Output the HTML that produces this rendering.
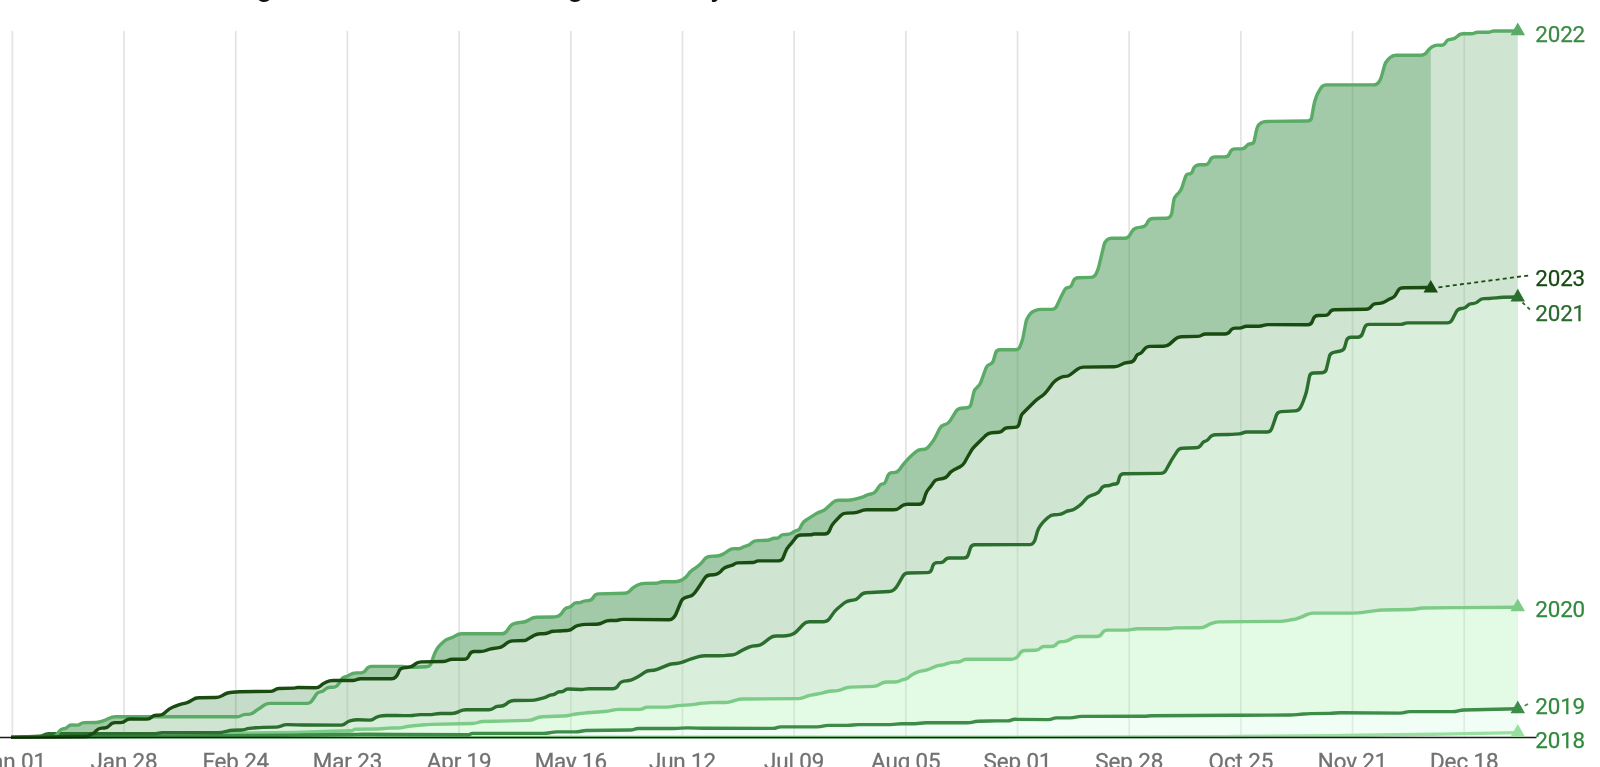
<!DOCTYPE html>
<html><head><meta charset="utf-8"><title>Chart</title>
<style>
html,body{margin:0;padding:0;background:#fff;}
body{width:1600px;height:767px;overflow:hidden;position:relative;font-family:"Roboto","Liberation Sans",sans-serif;}
svg{position:absolute;left:0;top:0;will-change:transform;}

.lab{font-family:"Roboto","Liberation Sans",sans-serif;font-size:22.4px;letter-spacing:-0.15px;}
.xl{font-family:"Roboto","Liberation Sans",sans-serif;font-size:22.4px;fill:#727272;stroke:#727272;stroke-width:0.3px;letter-spacing:-0.1px;}
.title{font-family:"Roboto","Liberation Sans",sans-serif;font-weight:700;font-size:27.5px;fill:#111;}
</style></head><body>
<svg width="1600" height="767" viewBox="0 0 1600 767"><g stroke="#000" stroke-opacity="0.043" stroke-width="1.8"><line x1="12.40" y1="31" x2="12.40" y2="737.5"/><line x1="124.08" y1="31" x2="124.08" y2="737.5"/><line x1="235.76" y1="31" x2="235.76" y2="737.5"/><line x1="347.44" y1="31" x2="347.44" y2="737.5"/><line x1="459.12" y1="31" x2="459.12" y2="737.5"/><line x1="570.80" y1="31" x2="570.80" y2="737.5"/><line x1="682.48" y1="31" x2="682.48" y2="737.5"/><line x1="794.16" y1="31" x2="794.16" y2="737.5"/><line x1="905.84" y1="31" x2="905.84" y2="737.5"/><line x1="1017.52" y1="31" x2="1017.52" y2="737.5"/><line x1="1129.20" y1="31" x2="1129.20" y2="737.5"/><line x1="1240.88" y1="31" x2="1240.88" y2="737.5"/><line x1="1352.56" y1="31" x2="1352.56" y2="737.5"/><line x1="1464.24" y1="31" x2="1464.24" y2="737.5"/></g><path d="M11.00,737.40 L36.50,737.05 Q40.00,737.00 43.50,736.91 L53.31,736.66 Q55.50,736.60 56.75,734.80 L56.75,734.80 Q58.00,733.00 59.31,731.25 L59.50,731.00 Q61.00,729.00 63.48,728.68 L64.29,728.58 Q66.50,728.30 68.00,726.65 L68.00,726.65 Q69.50,725.00 71.73,725.05 L76.84,725.16 Q78.90,725.20 80.50,723.90 L80.50,723.90 Q82.10,722.60 84.16,722.58 L96.08,722.44 Q99.40,722.40 102.50,721.20 L102.50,721.20 Q105.60,720.00 108.56,718.49 L108.78,718.39 Q111.90,716.80 115.40,716.80 L146.00,716.80 Q149.50,716.80 153.00,716.80 L236.82,716.80 Q239.20,716.80 241.25,715.60 L241.25,715.60 Q243.30,714.40 245.68,714.37 L248.75,714.34 Q252.00,714.30 254.35,712.05 L255.28,711.16 Q256.70,709.80 258.45,708.90 L258.45,708.90 Q260.20,708.00 261.75,706.79 L263.34,705.55 Q266.10,703.40 269.60,703.40 L307.59,703.40 Q310.10,703.40 311.55,701.35 L311.55,701.35 Q313.00,699.30 314.39,697.21 L316.23,694.42 Q317.70,692.20 320.35,691.90 L320.35,691.90 Q323.00,691.60 324.84,689.67 L325.05,689.45 Q327.10,687.30 330.07,687.30 L332.89,687.30 Q335.30,687.30 337.05,685.65 L337.05,685.65 Q338.80,684.00 339.98,681.90 L341.21,679.71 Q342.40,677.60 344.75,677.00 L344.75,677.00 Q347.10,676.40 349.18,675.15 L350.00,674.65 Q352.90,672.90 356.29,672.90 L360.60,672.90 Q364.10,672.90 365.97,669.94 L366.33,669.36 Q368.20,666.40 371.70,666.40 L394.00,666.40 Q397.50,666.40 401.00,666.40 L402.01,666.40 Q405.00,666.40 407.95,666.90 L407.95,666.90 Q410.90,667.40 413.89,667.28 L426.60,666.75 Q430.10,666.60 431.21,663.28 L433.59,656.22 Q434.70,652.90 436.42,649.85 L436.58,649.55 Q438.30,646.50 440.88,644.13 L443.02,642.17 Q445.60,639.80 448.92,638.71 L449.78,638.43 Q452.90,637.40 455.65,635.60 L455.65,635.60 Q458.40,633.80 461.69,633.80 L501.40,633.80 Q504.90,633.80 506.90,630.93 L509.65,626.98 Q511.30,624.60 514.05,623.70 L514.05,623.70 Q516.80,622.80 519.68,622.52 L522.42,622.24 Q525.90,621.90 528.86,620.03 L530.24,619.17 Q533.20,617.30 536.70,617.24 L552.43,616.95 Q555.00,616.90 557.50,616.30 L557.50,616.30 Q560.00,615.70 561.50,613.61 L564.38,609.61 Q565.90,607.50 568.50,607.35 L568.50,607.35 Q571.10,607.20 572.57,605.05 L572.60,605.00 Q574.10,602.80 576.76,602.80 L578.03,602.80 Q580.00,602.80 581.75,601.90 L581.75,601.90 Q583.50,601.00 585.46,600.86 L588.21,600.66 Q591.70,600.40 593.38,597.33 L593.52,597.07 Q595.20,594.00 598.70,593.91 L624.50,593.29 Q628.00,593.20 630.23,590.50 L630.47,590.20 Q632.70,587.50 635.83,585.93 L637.77,584.97 Q640.90,583.40 644.40,583.36 L655.50,583.22 Q657.40,583.20 659.15,582.45 L659.15,582.45 Q660.90,581.70 662.80,581.70 L675.00,581.70 Q678.50,581.70 681.63,580.13 L682.37,579.77 Q685.50,578.20 687.55,575.36 L688.48,574.07 Q690.20,571.70 692.55,569.95 L692.55,569.95 Q694.90,568.20 697.31,566.53 L697.93,566.10 Q700.80,564.10 702.92,561.32 L704.48,559.28 Q706.60,556.50 710.10,556.34 L716.78,556.04 Q720.00,555.90 722.80,554.30 L722.80,554.30 Q725.60,552.70 728.16,550.74 L728.35,550.60 Q731.10,548.50 734.56,548.61 L738.57,548.74 Q740.50,548.80 742.05,547.65 L742.05,547.65 Q743.60,546.50 745.49,546.12 L746.35,545.95 Q749.10,545.40 751.08,543.42 L751.45,543.05 Q753.80,540.70 757.12,540.59 L767.51,540.26 Q769.40,540.20 771.00,539.20 L771.00,539.20 Q772.60,538.20 774.49,538.20 L776.68,538.20 Q778.80,538.20 780.00,536.45 L780.00,536.45 Q781.20,534.70 783.32,534.63 L786.56,534.51 Q789.80,534.40 792.50,532.60 L793.54,531.90 Q795.20,530.80 797.15,530.40 L797.15,530.40 Q799.10,530.00 799.98,528.22 L801.55,525.04 Q803.10,521.90 806.06,520.04 L807.14,519.36 Q810.10,517.50 813.06,515.64 L816.27,513.62 Q818.70,512.10 821.45,511.30 L821.45,511.30 Q824.20,510.50 826.29,508.54 L832.54,502.69 Q835.10,500.30 838.60,500.30 L847.57,500.30 Q850.80,500.30 853.90,499.40 L854.29,499.29 Q857.00,498.50 859.75,497.85 L859.75,497.85 Q862.50,497.20 865.02,495.92 L865.25,495.80 Q868.00,494.40 871.06,493.97 L871.20,493.95 Q874.40,493.50 876.18,490.80 L879.44,485.86 Q880.60,484.10 882.70,483.90 L882.70,483.90 Q884.80,483.70 885.55,481.73 L887.76,475.87 Q889.00,472.60 892.50,472.60 L893.80,472.60 Q897.30,472.60 899.33,469.75 L900.47,468.15 Q902.50,465.30 904.81,462.67 L907.49,459.63 Q909.80,457.00 912.44,454.70 L915.56,452.00 Q918.20,449.70 921.70,449.53 L923.00,449.47 Q926.50,449.30 928.70,446.58 L931.60,443.02 Q933.80,440.30 935.37,437.17 L939.53,428.83 Q941.10,425.70 944.46,424.73 L945.04,424.57 Q948.40,423.60 950.24,420.62 L955.96,411.38 Q957.80,408.40 961.29,408.18 L966.81,407.82 Q970.30,407.60 971.08,404.19 L973.78,392.34 Q974.50,389.20 977.10,387.30 L977.10,387.30 Q979.70,385.40 980.79,382.37 L986.00,367.98 Q987.00,365.20 989.80,364.25 L989.80,364.25 Q992.60,363.30 993.42,360.46 L995.53,353.16 Q996.50,349.80 1000.00,349.80 L1015.20,349.80 Q1018.70,349.80 1019.98,346.54 L1021.32,343.16 Q1022.60,339.90 1023.24,336.46 L1025.86,322.44 Q1026.50,319.00 1028.53,316.15 L1029.70,314.51 Q1031.70,311.70 1034.95,310.55 L1034.95,310.55 Q1038.20,309.40 1041.65,309.40 L1051.60,309.40 Q1055.10,309.40 1056.60,306.24 L1058.90,301.36 Q1060.40,298.20 1061.97,295.07 L1064.43,290.14 Q1065.60,287.80 1068.20,287.50 L1068.20,287.50 Q1070.80,287.20 1071.81,284.79 L1073.35,281.13 Q1074.70,277.90 1078.20,277.79 L1090.70,277.41 Q1094.20,277.30 1095.77,274.17 L1096.53,272.63 Q1098.10,269.50 1098.92,266.10 L1104.04,244.92 Q1104.70,242.20 1106.65,240.20 L1106.65,240.20 Q1108.60,238.20 1111.39,238.20 L1124.60,238.20 Q1128.10,238.20 1129.84,235.16 L1131.93,231.49 Q1133.30,229.10 1135.90,228.20 L1135.90,228.20 Q1138.50,227.30 1141.24,227.09 L1141.75,227.05 Q1145.00,226.80 1146.59,223.96 L1147.89,221.65 Q1149.60,218.60 1153.10,218.53 L1166.57,218.24 Q1168.70,218.20 1170.10,216.60 L1170.10,216.60 Q1171.50,215.00 1171.83,212.90 L1173.81,200.12 Q1174.20,197.60 1176.00,195.80 L1176.00,195.80 Q1177.80,194.00 1179.40,192.02 L1179.65,191.70 Q1181.50,189.40 1182.34,186.57 L1183.23,183.58 Q1184.20,180.30 1185.40,177.10 L1185.74,176.19 Q1186.60,173.90 1189.05,173.90 L1189.05,173.90 Q1191.50,173.90 1192.38,171.61 L1193.58,168.48 Q1194.30,166.60 1196.10,165.70 L1196.10,165.70 Q1197.90,164.80 1199.91,164.80 L1204.50,164.80 Q1208.00,164.80 1209.45,161.62 L1210.15,160.08 Q1211.60,156.90 1215.10,156.90 L1224.50,156.90 Q1228.00,156.90 1229.47,153.72 L1230.23,152.08 Q1231.70,148.90 1235.20,148.90 L1241.38,148.90 Q1244.50,148.90 1246.30,146.35 L1246.51,146.05 Q1248.10,143.80 1250.85,143.80 L1250.85,143.80 Q1253.60,143.80 1254.17,141.11 L1255.61,134.25 Q1256.30,131.00 1257.20,127.80 L1257.25,127.64 Q1258.10,124.60 1260.85,123.05 L1260.85,123.05 Q1263.60,121.50 1266.76,121.46 L1307.60,120.94 Q1311.10,120.90 1311.69,117.45 L1313.61,106.35 Q1314.20,102.90 1315.33,99.59 L1316.27,96.81 Q1317.40,93.50 1319.29,90.55 L1321.01,87.85 Q1322.90,84.90 1326.40,84.90 L1373.43,84.90 Q1376.80,84.90 1378.75,82.15 L1378.75,82.15 Q1380.70,79.40 1381.59,76.15 L1384.48,65.58 Q1385.40,62.20 1387.89,59.74 L1390.01,57.66 Q1392.50,55.20 1396.00,55.20 L1421.00,55.20 Q1424.50,55.20 1426.59,52.39 L1427.18,51.60 Q1429.20,48.90 1431.95,46.95 L1431.95,46.95 Q1434.70,45.00 1438.07,45.11 L1440.86,45.20 Q1444.10,45.30 1445.65,42.45 L1445.65,42.45 Q1447.20,39.60 1450.44,39.39 L1451.51,39.32 Q1455.00,39.10 1457.32,36.48 L1457.38,36.42 Q1459.70,33.80 1463.20,33.80 L1471.21,33.80 Q1473.00,33.80 1474.60,33.00 L1474.60,33.00 Q1476.20,32.20 1477.99,32.20 L1489.00,32.20 Q1490.30,32.20 1491.45,31.60 L1491.45,31.60 Q1492.60,31.00 1493.90,31.00 L1517.80,31.00 L1517.8,737.5 L11.0,737.5 Z" fill="#cfe5d1"/><path d="M11.00,737.40 L86.62,736.52 Q88.00,736.50 89.00,735.55 L89.00,735.55 Q90.00,734.60 91.29,734.11 L92.10,733.80 Q94.20,733.00 95.68,731.31 L96.25,730.65 Q98.30,728.30 101.41,728.13 L104.36,727.98 Q107.70,727.80 109.80,725.20 L109.80,725.20 Q111.90,722.60 115.24,722.60 L120.64,722.60 Q123.40,722.60 125.45,720.75 L125.45,720.75 Q127.50,718.90 130.26,718.94 L146.67,719.16 Q149.50,719.20 151.55,717.25 L151.55,717.25 Q153.60,715.30 156.43,715.30 L158.50,715.30 Q162.00,715.30 164.56,712.91 L166.74,710.89 Q169.30,708.50 172.56,707.22 L175.44,706.08 Q178.70,704.80 182.10,703.95 L185.70,703.05 Q189.10,702.20 191.95,700.17 L192.45,699.83 Q195.30,697.80 198.80,697.76 L215.80,697.54 Q219.30,697.50 222.26,695.63 L223.64,694.77 Q226.60,692.90 230.08,692.49 L232.52,692.21 Q236.00,691.80 239.50,691.75 L270.96,691.33 Q273.20,691.30 274.95,689.90 L274.95,689.90 Q276.70,688.50 278.94,688.45 L293.11,688.13 Q294.30,688.10 295.45,687.80 L295.45,687.80 Q296.60,687.50 297.79,687.52 L315.51,687.76 Q318.30,687.80 320.35,685.90 L320.35,685.90 Q322.40,684.00 324.91,682.76 L326.36,682.05 Q329.50,680.50 333.00,680.50 L353.33,680.50 Q355.30,680.50 357.05,679.60 L357.05,679.60 Q358.80,678.70 360.77,678.70 L391.53,678.70 Q394.00,678.70 395.75,676.95 L395.75,676.95 Q397.50,675.20 398.33,672.87 L398.82,671.50 Q400.00,668.20 403.48,667.87 L408.02,667.43 Q411.50,667.10 414.18,664.85 L415.02,664.15 Q417.70,661.90 421.20,661.84 L443.55,661.44 Q445.90,661.40 448.00,660.35 L448.00,660.35 Q450.10,659.30 452.45,659.30 L463.80,659.30 Q467.30,659.30 468.77,656.12 L469.43,654.68 Q470.90,651.50 474.40,651.50 L479.99,651.50 Q483.40,651.50 486.55,650.20 L486.55,650.20 Q489.70,648.90 493.08,648.49 L497.73,647.92 Q501.20,647.50 503.96,645.34 L506.74,643.16 Q509.50,641.00 513.00,640.89 L524.80,640.51 Q525.20,640.50 525.55,640.30 L525.55,640.30 Q525.90,640.10 526.25,639.90 L533.86,635.54 Q536.90,633.80 540.40,633.80 L543.00,633.80 Q546.00,633.80 548.75,632.60 L549.89,632.10 Q551.50,631.40 553.25,631.30 L553.25,631.30 Q555.00,631.20 556.75,631.10 L557.50,631.05 Q560.00,630.90 562.50,630.78 L567.49,630.55 Q570.60,630.40 572.90,628.30 L572.90,628.30 Q575.20,626.20 578.23,625.47 L578.90,625.31 Q582.30,624.50 585.80,624.42 L596.40,624.18 Q599.90,624.10 602.99,622.46 L603.81,622.04 Q606.90,620.40 610.40,620.47 L613.88,620.55 Q616.30,620.60 618.65,620.00 L618.65,620.00 Q621.00,619.40 623.43,619.42 L668.89,619.78 Q671.40,619.80 673.20,618.05 L673.20,618.05 Q675.00,616.30 675.96,613.98 L681.00,601.74 Q682.00,599.30 684.35,598.10 L684.35,598.10 Q686.70,596.90 689.29,596.37 L689.65,596.30 Q692.60,595.70 694.40,593.28 L695.71,591.51 Q697.80,588.70 699.71,585.77 L704.69,578.13 Q706.60,575.20 710.09,574.98 L713.70,574.75 Q716.00,574.60 718.00,573.45 L718.00,573.45 Q720.00,572.30 721.52,570.56 L722.05,569.95 Q724.10,567.60 727.10,566.76 L730.84,565.72 Q732.70,565.20 734.25,564.05 L734.25,564.05 Q735.80,562.90 737.73,562.85 L753.23,562.44 Q754.60,562.40 755.75,561.65 L755.75,561.65 Q756.90,560.90 758.27,560.90 L778.40,560.90 Q781.90,560.90 783.17,557.64 L785.33,552.06 Q786.60,548.80 788.92,546.18 L789.78,545.22 Q792.10,542.60 794.17,539.78 L795.53,537.92 Q797.60,535.10 801.10,535.00 L810.87,534.72 Q811.70,534.70 812.45,534.35 L812.45,534.35 Q813.20,534.00 814.03,534.00 L824.60,534.00 Q828.10,534.00 829.44,530.77 L830.66,527.83 Q832.00,524.60 834.42,522.07 L840.48,515.73 Q842.90,513.20 846.40,513.10 L853.50,512.90 Q857.00,512.80 860.14,511.25 L860.16,511.25 Q863.30,509.70 866.80,509.71 L893.80,509.79 Q897.30,509.80 899.94,507.50 L900.96,506.60 Q903.60,504.30 907.10,504.30 L918.90,504.30 Q922.40,504.30 923.46,500.96 L925.44,494.74 Q926.50,491.40 928.77,488.74 L929.81,487.53 Q931.80,485.20 933.35,482.55 L933.35,482.55 Q934.90,479.90 937.92,479.37 L942.95,478.50 Q946.40,477.90 948.31,474.97 L948.59,474.53 Q950.50,471.60 953.63,470.02 L959.87,466.88 Q963.00,465.30 964.69,462.24 L967.84,456.55 Q969.30,453.90 970.85,451.30 L970.85,451.30 Q972.40,448.70 974.54,446.56 L979.33,441.77 Q981.80,439.30 984.27,436.83 L985.63,435.47 Q988.10,433.00 991.59,432.74 L998.97,432.20 Q1001.60,432.00 1003.20,429.90 L1003.20,429.90 Q1004.80,427.80 1007.44,427.68 L1014.80,427.36 Q1018.30,427.20 1019.14,423.80 L1020.98,416.38 Q1021.40,414.70 1022.65,413.50 L1022.65,413.50 Q1023.90,412.30 1025.13,411.07 L1034.43,401.77 Q1036.90,399.30 1039.81,397.36 L1041.79,396.04 Q1044.70,394.10 1046.81,391.30 L1052.99,383.10 Q1055.10,380.30 1058.24,378.75 L1060.67,377.55 Q1063.00,376.40 1065.60,376.40 L1065.60,376.40 Q1068.20,376.40 1070.24,374.79 L1077.15,369.36 Q1079.90,367.20 1083.40,367.15 L1114.20,366.75 Q1117.70,366.70 1120.70,364.90 L1121.20,364.60 Q1124.20,362.80 1127.69,362.49 L1129.81,362.31 Q1133.30,362.00 1134.87,358.87 L1136.31,355.98 Q1137.20,354.20 1139.15,353.80 L1139.15,353.80 Q1141.10,353.40 1142.30,351.81 L1144.29,349.19 Q1146.40,346.40 1149.90,346.37 L1163.80,346.23 Q1167.30,346.20 1169.91,343.87 L1175.19,339.13 Q1177.80,336.80 1181.30,336.72 L1197.96,336.35 Q1200.10,336.30 1201.90,335.15 L1201.90,335.15 Q1203.70,334.00 1205.84,334.00 L1224.87,334.00 Q1228.30,334.00 1230.05,331.05 L1230.05,331.05 Q1231.80,328.10 1235.23,328.10 L1239.21,328.10 Q1241.20,328.10 1242.95,327.15 L1242.95,327.15 Q1244.70,326.20 1246.69,326.20 L1258.62,326.20 Q1261.10,326.20 1263.45,325.40 L1263.45,325.40 Q1265.80,324.60 1268.28,324.61 L1307.50,324.78 Q1311.00,324.80 1312.28,321.54 L1313.32,318.86 Q1314.60,315.60 1318.10,315.52 L1325.21,315.37 Q1328.30,315.30 1329.70,312.55 L1329.70,312.55 Q1331.10,309.80 1334.19,309.75 L1366.16,309.25 Q1369.40,309.20 1371.20,306.50 L1371.20,306.50 Q1373.00,303.80 1376.24,303.61 L1379.61,303.41 Q1383.10,303.20 1385.98,301.22 L1387.56,300.13 Q1389.50,298.80 1391.75,298.10 L1391.75,298.10 Q1394.00,297.40 1395.22,295.38 L1398.53,289.90 Q1399.50,288.30 1401.35,288.00 L1401.35,288.00 Q1403.20,287.70 1405.07,287.69 L1427.30,287.53 Q1430.80,287.50 1430.80,284.00 L1430.80,48.75 Q1430.80,47.77 1430.00,48.33 L1430.00,48.33 Q1429.20,48.90 1428.61,49.69 L1426.59,52.39 Q1424.50,55.20 1421.00,55.20 L1396.00,55.20 Q1392.50,55.20 1390.01,57.66 L1387.89,59.74 Q1385.40,62.20 1384.48,65.58 L1381.59,76.15 Q1380.70,79.40 1378.75,82.15 L1378.75,82.15 Q1376.80,84.90 1373.43,84.90 L1326.40,84.90 Q1322.90,84.90 1321.01,87.85 L1319.29,90.55 Q1317.40,93.50 1316.27,96.81 L1315.33,99.59 Q1314.20,102.90 1313.61,106.35 L1311.69,117.45 Q1311.10,120.90 1307.60,120.94 L1266.76,121.46 Q1263.60,121.50 1260.85,123.05 L1260.85,123.05 Q1258.10,124.60 1257.25,127.64 L1257.20,127.80 Q1256.30,131.00 1255.61,134.25 L1254.17,141.11 Q1253.60,143.80 1250.85,143.80 L1250.85,143.80 Q1248.10,143.80 1246.51,146.05 L1246.30,146.35 Q1244.50,148.90 1241.38,148.90 L1235.20,148.90 Q1231.70,148.90 1230.23,152.08 L1229.47,153.72 Q1228.00,156.90 1224.50,156.90 L1215.10,156.90 Q1211.60,156.90 1210.15,160.08 L1209.45,161.62 Q1208.00,164.80 1204.50,164.80 L1199.91,164.80 Q1197.90,164.80 1196.10,165.70 L1196.10,165.70 Q1194.30,166.60 1193.58,168.48 L1192.38,171.61 Q1191.50,173.90 1189.05,173.90 L1189.05,173.90 Q1186.60,173.90 1185.74,176.19 L1185.40,177.10 Q1184.20,180.30 1183.23,183.58 L1182.34,186.57 Q1181.50,189.40 1179.65,191.70 L1179.40,192.02 Q1177.80,194.00 1176.00,195.80 L1176.00,195.80 Q1174.20,197.60 1173.81,200.12 L1171.83,212.90 Q1171.50,215.00 1170.10,216.60 L1170.10,216.60 Q1168.70,218.20 1166.57,218.24 L1153.10,218.53 Q1149.60,218.60 1147.89,221.65 L1146.59,223.96 Q1145.00,226.80 1141.75,227.05 L1141.24,227.09 Q1138.50,227.30 1135.90,228.20 L1135.90,228.20 Q1133.30,229.10 1131.93,231.49 L1129.84,235.16 Q1128.10,238.20 1124.60,238.20 L1111.39,238.20 Q1108.60,238.20 1106.65,240.20 L1106.65,240.20 Q1104.70,242.20 1104.04,244.92 L1098.92,266.10 Q1098.10,269.50 1096.53,272.63 L1095.77,274.17 Q1094.20,277.30 1090.70,277.41 L1078.20,277.79 Q1074.70,277.90 1073.35,281.13 L1071.81,284.79 Q1070.80,287.20 1068.20,287.50 L1068.20,287.50 Q1065.60,287.80 1064.43,290.14 L1061.97,295.07 Q1060.40,298.20 1058.90,301.36 L1056.60,306.24 Q1055.10,309.40 1051.60,309.40 L1041.65,309.40 Q1038.20,309.40 1034.95,310.55 L1034.95,310.55 Q1031.70,311.70 1029.70,314.51 L1028.53,316.15 Q1026.50,319.00 1025.86,322.44 L1023.24,336.46 Q1022.60,339.90 1021.32,343.16 L1019.98,346.54 Q1018.70,349.80 1015.20,349.80 L1000.00,349.80 Q996.50,349.80 995.53,353.16 L993.42,360.46 Q992.60,363.30 989.80,364.25 L989.80,364.25 Q987.00,365.20 986.00,367.98 L980.79,382.37 Q979.70,385.40 977.10,387.30 L977.10,387.30 Q974.50,389.20 973.78,392.34 L971.08,404.19 Q970.30,407.60 966.81,407.82 L961.29,408.18 Q957.80,408.40 955.96,411.38 L950.24,420.62 Q948.40,423.60 945.04,424.57 L944.46,424.73 Q941.10,425.70 939.53,428.83 L935.37,437.17 Q933.80,440.30 931.60,443.02 L928.70,446.58 Q926.50,449.30 923.00,449.47 L921.70,449.53 Q918.20,449.70 915.56,452.00 L912.44,454.70 Q909.80,457.00 907.49,459.63 L904.81,462.67 Q902.50,465.30 900.47,468.15 L899.33,469.75 Q897.30,472.60 893.80,472.60 L892.50,472.60 Q889.00,472.60 887.76,475.87 L885.55,481.73 Q884.80,483.70 882.70,483.90 L882.70,483.90 Q880.60,484.10 879.44,485.86 L876.18,490.80 Q874.40,493.50 871.20,493.95 L871.06,493.97 Q868.00,494.40 865.25,495.80 L865.02,495.92 Q862.50,497.20 859.75,497.85 L859.75,497.85 Q857.00,498.50 854.29,499.29 L853.90,499.40 Q850.80,500.30 847.57,500.30 L838.60,500.30 Q835.10,500.30 832.54,502.69 L826.29,508.54 Q824.20,510.50 821.45,511.30 L821.45,511.30 Q818.70,512.10 816.27,513.62 L813.06,515.64 Q810.10,517.50 807.14,519.36 L806.06,520.04 Q803.10,521.90 801.55,525.04 L799.98,528.22 Q799.10,530.00 797.15,530.40 L797.15,530.40 Q795.20,530.80 793.54,531.90 L792.50,532.60 Q789.80,534.40 786.56,534.51 L783.32,534.63 Q781.20,534.70 780.00,536.45 L780.00,536.45 Q778.80,538.20 776.68,538.20 L774.49,538.20 Q772.60,538.20 771.00,539.20 L771.00,539.20 Q769.40,540.20 767.51,540.26 L757.12,540.59 Q753.80,540.70 751.45,543.05 L751.08,543.42 Q749.10,545.40 746.35,545.95 L745.49,546.12 Q743.60,546.50 742.05,547.65 L742.05,547.65 Q740.50,548.80 738.57,548.74 L734.56,548.61 Q731.10,548.50 728.35,550.60 L728.16,550.74 Q725.60,552.70 722.80,554.30 L722.80,554.30 Q720.00,555.90 716.78,556.04 L710.10,556.34 Q706.60,556.50 704.48,559.28 L702.92,561.32 Q700.80,564.10 697.93,566.10 L697.31,566.53 Q694.90,568.20 692.55,569.95 L692.55,569.95 Q690.20,571.70 688.48,574.07 L687.55,575.36 Q685.50,578.20 682.37,579.77 L681.63,580.13 Q678.50,581.70 675.00,581.70 L662.80,581.70 Q660.90,581.70 659.15,582.45 L659.15,582.45 Q657.40,583.20 655.50,583.22 L644.40,583.36 Q640.90,583.40 637.77,584.97 L635.83,585.93 Q632.70,587.50 630.47,590.20 L630.23,590.50 Q628.00,593.20 624.50,593.29 L598.70,593.91 Q595.20,594.00 593.52,597.07 L593.38,597.33 Q591.70,600.40 588.21,600.66 L585.46,600.86 Q583.50,601.00 581.75,601.90 L581.75,601.90 Q580.00,602.80 578.03,602.80 L576.76,602.80 Q574.10,602.80 572.60,605.00 L572.57,605.05 Q571.10,607.20 568.50,607.35 L568.50,607.35 Q565.90,607.50 564.38,609.61 L561.50,613.61 Q560.00,615.70 557.50,616.30 L557.50,616.30 Q555.00,616.90 552.43,616.95 L536.70,617.24 Q533.20,617.30 530.24,619.17 L528.86,620.03 Q525.90,621.90 522.42,622.24 L519.68,622.52 Q516.80,622.80 514.05,623.70 L514.05,623.70 Q511.30,624.60 509.65,626.98 L506.90,630.93 Q504.90,633.80 501.40,633.80 L461.69,633.80 Q458.40,633.80 455.65,635.60 L455.65,635.60 Q452.90,637.40 449.78,638.43 L448.92,638.71 Q445.60,639.80 443.02,642.17 L440.88,644.13 Q438.30,646.50 436.58,649.55 L436.42,649.85 Q434.70,652.90 433.59,656.22 L431.21,663.28 Q430.10,666.60 426.60,666.75 L413.89,667.28 Q410.90,667.40 407.95,666.90 L407.95,666.90 Q405.00,666.40 402.01,666.40 L401.00,666.40 Q397.50,666.40 394.00,666.40 L371.70,666.40 Q368.20,666.40 366.33,669.36 L365.97,669.94 Q364.10,672.90 360.60,672.90 L356.29,672.90 Q352.90,672.90 350.00,674.65 L349.18,675.15 Q347.10,676.40 344.75,677.00 L344.75,677.00 Q342.40,677.60 341.21,679.71 L339.98,681.90 Q338.80,684.00 337.05,685.65 L337.05,685.65 Q335.30,687.30 332.89,687.30 L330.07,687.30 Q327.10,687.30 325.05,689.45 L324.84,689.67 Q323.00,691.60 320.35,691.90 L320.35,691.90 Q317.70,692.20 316.23,694.42 L314.39,697.21 Q313.00,699.30 311.55,701.35 L311.55,701.35 Q310.10,703.40 307.59,703.40 L269.60,703.40 Q266.10,703.40 263.34,705.55 L261.75,706.79 Q260.20,708.00 258.45,708.90 L258.45,708.90 Q256.70,709.80 255.28,711.16 L254.35,712.05 Q252.00,714.30 248.75,714.34 L245.68,714.37 Q243.30,714.40 241.25,715.60 L241.25,715.60 Q239.20,716.80 236.82,716.80 L153.00,716.80 Q149.50,716.80 146.00,716.80 L115.40,716.80 Q111.90,716.80 108.78,718.39 L108.56,718.49 Q105.60,720.00 102.50,721.20 L102.50,721.20 Q99.40,722.40 96.08,722.44 L84.16,722.58 Q82.10,722.60 80.50,723.90 L80.50,723.90 Q78.90,725.20 76.84,725.16 L71.73,725.05 Q69.50,725.00 68.00,726.65 L68.00,726.65 Q66.50,728.30 64.29,728.58 L63.48,728.68 Q61.00,729.00 59.50,731.00 L59.31,731.25 Q58.00,733.00 56.75,734.80 L56.75,734.80 Q55.50,736.60 53.31,736.66 L43.50,736.91 Q40.00,737.00 36.50,737.05 L11.00,737.40 Z" fill="#3e8a48" fill-opacity="0.3"/><path d="M11.00,737.40 L39.62,736.29 Q42.00,736.20 44.00,734.90 L44.00,734.90 Q46.00,733.60 48.39,733.60 L152.45,733.80 Q155.00,733.80 157.50,733.30 L157.50,733.30 Q160.00,732.80 162.55,732.79 L218.40,732.61 Q221.90,732.60 225.28,731.68 L226.62,731.32 Q230.00,730.40 233.50,730.27 L241.77,729.97 Q243.75,729.90 245.62,729.25 L245.62,729.25 Q247.50,728.60 249.47,728.40 L255.92,727.75 Q259.40,727.40 262.90,727.35 L276.61,727.14 Q279.40,727.10 281.90,725.85 L281.90,725.85 Q284.40,724.60 287.19,724.67 L296.50,724.91 Q300.00,725.00 303.50,725.01 L341.19,725.09 Q343.75,725.10 345.62,723.35 L345.62,723.35 Q347.50,721.60 349.96,720.89 L351.04,720.57 Q354.40,719.60 357.90,719.72 L369.20,720.11 Q371.90,720.20 374.07,718.60 L374.07,718.60 Q376.25,717.00 378.88,716.39 L379.69,716.20 Q383.10,715.40 386.60,715.44 L396.50,715.56 Q400.00,715.60 403.50,715.60 L409.85,715.60 Q412.50,715.60 415.10,715.10 L415.10,715.10 Q417.70,714.60 420.35,714.60 L428.15,714.60 Q431.30,714.60 434.40,714.05 L434.40,714.05 Q437.50,713.50 440.65,713.50 L451.80,713.50 Q455.30,713.50 458.40,711.88 L459.50,711.32 Q462.60,709.70 466.10,709.70 L489.07,709.70 Q491.80,709.70 493.90,707.95 L493.90,707.95 Q496.00,706.20 498.73,706.20 L499.80,706.20 Q503.30,706.20 506.06,704.05 L507.84,702.65 Q510.60,700.50 514.10,700.47 L531.00,700.33 Q534.50,700.30 537.88,699.39 L543.66,697.83 Q546.00,697.20 548.10,696.00 L548.11,695.99 Q550.20,694.80 552.60,694.70 L552.84,694.69 Q555.00,694.60 556.50,693.05 L556.50,693.05 Q558.00,691.50 560.15,691.71 L560.89,691.79 Q563.00,692.00 564.50,690.50 L564.50,690.50 Q566.00,689.00 568.12,689.06 L580.97,689.44 Q583.00,689.50 585.00,689.15 L585.00,689.15 Q587.00,688.80 589.03,688.80 L612.50,688.80 Q616.00,688.80 617.88,685.85 L618.86,684.30 Q620.00,682.50 622.00,681.75 L622.00,681.75 Q624.00,681.00 626.13,680.85 L627.51,680.75 Q631.00,680.50 634.07,678.81 L637.93,676.69 Q641.00,675.00 643.80,672.90 L644.20,672.60 Q647.00,670.50 650.50,670.50 L650.50,670.50 Q654.00,670.50 657.28,669.29 L660.90,667.95 Q664.00,666.80 667.00,665.40 L667.00,665.40 Q670.00,664.00 673.30,663.74 L676.51,663.48 Q680.00,663.20 683.26,661.92 L688.74,659.78 Q692.00,658.50 695.38,657.59 L698.62,656.71 Q702.00,655.80 705.50,655.80 L711.50,655.80 Q715.00,655.80 718.50,655.72 L724.10,655.58 Q727.60,655.50 731.07,655.05 L731.93,654.95 Q735.40,654.50 738.32,652.57 L738.38,652.53 Q741.30,650.60 744.49,649.15 L748.91,647.15 Q752.10,645.70 755.60,645.70 L756.40,645.70 Q759.90,645.70 762.68,643.58 L769.82,638.12 Q772.60,636.00 776.10,636.00 L782.80,636.00 Q786.30,636.00 789.69,635.13 L790.71,634.87 Q794.10,634.00 796.51,631.46 L803.39,624.24 Q805.80,621.70 809.30,621.70 L823.90,621.70 Q827.40,621.70 829.40,618.83 L833.20,613.37 Q835.20,610.50 837.89,608.27 L844.21,603.03 Q846.90,600.80 850.38,600.44 L853.22,600.16 Q856.70,599.80 858.97,597.14 L860.33,595.56 Q862.60,592.90 866.10,592.72 L889.27,591.54 Q892.10,591.40 894.20,589.50 L894.20,589.50 Q896.30,587.60 897.70,585.14 L902.87,576.04 Q904.60,573.00 908.10,572.95 L927.20,572.65 Q930.70,572.60 931.74,569.26 L932.76,565.94 Q933.80,562.60 937.30,562.60 L940.40,562.60 Q943.20,562.60 944.80,560.30 L944.80,560.30 Q946.40,558.00 949.20,558.00 L963.70,558.00 Q967.20,558.00 968.26,554.66 L970.34,548.14 Q971.40,544.80 974.90,544.79 L1029.81,544.61 Q1031.90,544.60 1033.25,543.00 L1033.25,543.00 Q1034.60,541.40 1035.17,539.38 L1037.25,531.97 Q1038.20,528.60 1040.31,525.80 L1041.59,524.10 Q1043.70,521.30 1046.33,518.99 L1048.37,517.21 Q1051.00,514.90 1054.50,514.76 L1057.60,514.64 Q1061.10,514.50 1064.10,512.69 L1065.04,512.12 Q1067.40,510.70 1070.15,510.50 L1070.15,510.50 Q1072.90,510.30 1075.16,508.71 L1079.14,505.91 Q1082.00,503.90 1084.11,501.10 L1085.39,499.40 Q1087.50,496.60 1090.83,495.51 L1095.17,494.09 Q1098.50,493.00 1100.34,490.02 L1101.32,488.42 Q1103.00,485.70 1106.20,485.70 L1107.40,485.70 Q1109.40,485.70 1111.25,484.95 L1111.25,484.95 Q1113.10,484.20 1115.09,484.07 L1115.35,484.05 Q1117.60,483.90 1118.20,481.73 L1119.46,477.17 Q1120.40,473.80 1123.90,473.76 L1160.70,473.34 Q1164.20,473.30 1165.89,470.24 L1169.81,463.16 Q1171.50,460.10 1173.39,457.15 L1177.11,451.35 Q1179.00,448.40 1182.50,448.28 L1195.50,447.82 Q1199.00,447.70 1201.09,444.89 L1202.63,442.83 Q1203.70,441.40 1205.45,441.05 L1205.45,441.05 Q1207.20,440.70 1208.31,439.30 L1209.72,437.54 Q1211.90,434.80 1215.40,434.73 L1228.30,434.47 Q1231.80,434.40 1235.29,434.14 L1239.26,433.84 Q1241.20,433.70 1242.95,432.85 L1242.95,432.85 Q1244.70,432.00 1246.65,432.00 L1267.04,432.00 Q1270.50,432.00 1271.70,428.75 L1271.70,428.75 Q1272.90,425.50 1274.00,422.22 L1276.39,415.12 Q1277.50,411.80 1281.00,411.62 L1295.20,410.88 Q1298.70,410.70 1300.38,407.63 L1300.52,407.37 Q1302.20,404.30 1303.36,401.00 L1305.24,395.60 Q1306.40,392.30 1307.06,388.86 L1309.44,376.54 Q1310.10,373.10 1313.60,372.99 L1322.10,372.71 Q1325.60,372.60 1326.40,369.19 L1329.40,356.41 Q1330.20,353.00 1333.63,352.32 L1340.37,350.98 Q1343.80,350.30 1344.75,346.93 L1346.55,340.57 Q1347.50,337.20 1351.00,337.20 L1357.70,337.20 Q1361.20,337.20 1362.36,333.90 L1364.54,327.70 Q1365.70,324.40 1369.20,324.40 L1400.20,324.40 Q1402.20,324.40 1404.05,323.65 L1404.05,323.65 Q1405.90,322.90 1407.90,322.90 L1447.10,322.90 Q1450.60,322.90 1452.20,319.79 L1456.30,311.81 Q1457.90,308.70 1461.39,308.51 L1462.29,308.46 Q1465.20,308.30 1467.05,306.05 L1467.05,306.05 Q1468.90,303.80 1471.81,303.64 L1472.99,303.58 Q1476.20,303.40 1478.45,301.10 L1478.45,301.10 Q1480.70,298.80 1483.91,298.66 L1489.10,298.45 Q1492.60,298.30 1496.07,297.87 L1496.43,297.83 Q1499.90,297.40 1503.40,297.32 L1517.80,297.00 L1517.8,737.5 L11.0,737.5 Z" fill="#d9efdb"/><path d="M11.00,737.40 L196.50,736.52 Q200.00,736.50 203.50,736.34 L218.50,735.66 Q222.00,735.50 225.36,734.53 L226.64,734.17 Q230.00,733.20 233.50,733.16 L296.50,732.34 Q300.00,732.30 303.50,732.19 L324.50,731.51 Q328.00,731.40 331.50,731.31 L351.27,730.78 Q352.50,730.75 353.45,729.98 L353.45,729.98 Q354.40,729.20 355.63,729.19 L377.75,728.94 Q381.25,728.90 384.72,728.44 L385.28,728.36 Q388.75,727.90 392.25,727.96 L396.50,728.04 Q400.00,728.10 403.40,727.28 L404.10,727.12 Q407.50,726.30 410.99,725.98 L424.61,724.72 Q428.10,724.40 431.60,724.33 L472.06,723.46 Q475.00,723.40 477.80,722.50 L477.80,722.50 Q480.60,721.60 483.54,721.52 L527.80,720.39 Q531.30,720.30 534.49,718.85 L535.61,718.35 Q538.80,716.90 542.30,716.78 L563.40,716.02 Q566.90,715.90 570.30,715.08 L571.00,714.92 Q574.40,714.10 577.88,713.75 L584.02,713.15 Q587.50,712.80 590.99,712.55 L604.61,711.55 Q608.10,711.30 611.49,710.44 L612.21,710.26 Q615.60,709.40 619.10,709.40 L639.72,709.40 Q641.90,709.40 643.75,708.25 L643.75,708.25 Q645.60,707.10 647.78,707.10 L666.50,707.10 Q670.00,707.10 673.43,706.41 L674.07,706.29 Q677.50,705.60 680.99,705.39 L689.01,704.91 Q692.50,704.70 695.95,704.10 L696.55,704.00 Q700.00,703.40 703.49,703.17 L711.51,702.63 Q715.00,702.40 718.50,702.43 L724.10,702.47 Q727.60,702.50 730.96,701.52 L735.94,700.08 Q739.30,699.10 742.80,699.07 L798.59,698.63 Q801.90,698.60 804.85,697.10 L804.85,697.10 Q807.80,695.60 811.07,695.07 L816.05,694.26 Q819.50,693.70 822.88,692.80 L825.92,692.00 Q829.30,691.10 832.80,690.96 L835.60,690.84 Q839.10,690.70 842.29,689.27 L843.71,688.63 Q846.90,687.20 850.40,687.09 L873.20,686.41 Q876.70,686.30 879.63,684.39 L880.37,683.91 Q883.30,682.00 886.80,682.00 L894.69,682.00 Q897.60,682.00 900.20,680.70 L901.05,680.27 Q902.80,679.40 904.75,679.25 L904.75,679.25 Q906.70,679.10 908.14,677.77 L908.65,677.30 Q910.60,675.50 912.94,674.25 L915.41,672.94 Q918.50,671.30 921.97,670.85 L922.83,670.75 Q926.30,670.30 929.53,668.95 L935.59,666.41 Q938.00,665.40 940.60,665.20 L940.60,665.20 Q943.20,665.00 945.66,664.13 L947.80,663.37 Q951.10,662.20 954.60,662.08 L957.86,661.98 Q960.20,661.90 962.15,660.60 L962.15,660.60 Q964.10,659.30 966.44,659.30 L1011.29,659.30 Q1013.60,659.30 1015.60,658.15 L1015.60,658.15 Q1017.60,657.00 1018.80,655.03 L1019.68,653.59 Q1021.50,650.60 1025.00,650.52 L1035.58,650.26 Q1038.20,650.20 1040.05,648.35 L1040.05,648.35 Q1041.90,646.50 1044.52,646.50 L1051.66,646.50 Q1054.70,646.50 1056.50,644.05 L1056.50,644.05 Q1058.30,641.60 1061.34,641.60 L1063.00,641.60 Q1066.50,641.60 1069.47,639.75 L1071.73,638.35 Q1074.70,636.50 1078.20,636.50 L1096.80,636.50 Q1100.30,636.50 1102.02,633.45 L1102.18,633.15 Q1103.90,630.10 1107.40,630.10 L1126.67,630.10 Q1129.50,630.10 1132.25,629.45 L1132.25,629.45 Q1135.00,628.80 1137.83,628.80 L1167.70,628.80 Q1169.60,628.80 1171.45,628.35 L1171.45,628.35 Q1173.30,627.90 1175.20,627.89 L1199.89,627.81 Q1203.30,627.80 1206.20,626.00 L1206.20,626.00 Q1209.10,624.20 1212.34,623.12 L1212.68,623.01 Q1216.00,621.90 1219.50,621.87 L1280.00,621.33 Q1283.50,621.30 1286.93,620.60 L1289.38,620.09 Q1291.30,619.70 1293.25,619.50 L1293.25,619.50 Q1295.20,619.30 1297.04,618.62 L1299.72,617.62 Q1303.00,616.40 1306.16,614.89 L1306.74,614.61 Q1309.90,613.10 1313.40,613.10 L1354.10,613.10 Q1357.60,613.10 1361.07,612.62 L1375.63,610.58 Q1379.10,610.10 1382.60,610.04 L1411.31,609.55 Q1414.30,609.50 1417.20,608.75 L1417.20,608.75 Q1420.10,608.00 1423.10,607.97 L1453.80,607.64 Q1457.30,607.60 1460.80,607.58 L1517.80,607.20 L1517.8,737.5 L11.0,737.5 Z" fill="#e3fae5"/><path d="M11.00,737.40 L146.50,736.23 Q150.00,736.20 153.50,736.17 L296.50,735.13 Q300.00,735.10 303.50,735.06 L350.90,734.54 Q354.40,734.50 357.90,734.41 L362.10,734.29 Q365.60,734.20 369.10,734.23 L396.50,734.47 Q400.00,734.50 403.50,734.51 L468.25,734.70 Q469.40,734.70 470.35,734.05 L470.35,734.05 Q471.30,733.40 472.45,733.40 L542.80,733.40 Q546.30,733.40 549.73,732.71 L550.37,732.59 Q553.80,731.90 557.30,731.90 L575.18,731.90 Q578.10,731.90 580.95,731.25 L580.95,731.25 Q583.80,730.60 586.72,730.56 L630.46,730.03 Q632.50,730.00 634.40,729.25 L634.40,729.25 Q636.30,728.50 638.34,728.50 L674.00,728.50 Q677.50,728.50 680.98,728.17 L681.52,728.13 Q685.00,727.80 688.50,727.89 L696.50,728.11 Q700.00,728.20 703.50,728.21 L772.96,728.39 Q775.00,728.40 776.90,727.65 L776.90,727.65 Q778.80,726.90 780.84,726.90 L817.10,726.90 Q820.00,726.90 822.80,726.15 L822.80,726.15 Q825.60,725.40 828.50,725.40 L847.17,725.40 Q850.00,725.40 852.80,725.00 L852.80,725.00 Q855.60,724.60 858.43,724.60 L890.21,724.60 Q893.10,724.60 895.95,724.15 L895.95,724.15 Q898.80,723.70 901.69,723.70 L914.66,723.70 Q917.50,723.70 920.30,723.25 L920.30,723.25 Q923.10,722.80 925.94,722.80 L967.10,722.80 Q970.00,722.80 972.80,722.05 L972.80,722.05 Q975.60,721.30 978.50,721.23 L989.00,720.98 Q992.50,720.90 996.00,720.90 L1007.38,720.90 Q1009.40,720.90 1011.25,720.10 L1011.25,720.10 Q1013.10,719.30 1015.12,719.32 L1048.52,719.58 Q1050.60,719.60 1052.50,718.75 L1052.50,718.75 Q1054.40,717.90 1056.48,717.90 L1070.15,717.90 Q1073.10,717.90 1075.95,717.15 L1075.95,717.15 Q1078.80,716.40 1081.75,716.40 L1144.43,716.30 Q1146.30,716.30 1148.15,716.00 L1148.15,716.00 Q1150.00,715.70 1151.87,715.69 L1235.00,715.22 Q1238.50,715.20 1242.00,715.19 L1289.80,715.01 Q1293.30,715.00 1296.78,714.67 L1303.52,714.03 Q1307.00,713.70 1310.50,713.64 L1329.44,713.35 Q1332.40,713.30 1335.35,713.00 L1335.35,713.00 Q1338.30,712.70 1341.27,712.72 L1399.94,713.08 Q1402.50,713.10 1404.95,712.35 L1404.95,712.35 Q1407.40,711.60 1409.96,711.60 L1452.24,711.60 Q1455.30,711.60 1458.25,710.80 L1458.25,710.80 Q1461.20,710.00 1464.26,709.94 L1517.80,708.80 L1517.8,737.5 L11.0,737.5 Z" fill="#f1fef6"/><path d="M11.00,737.40 L996.50,737.20 Q1000.00,737.20 1003.50,737.19 L1226.50,736.61 Q1230.00,736.60 1233.50,736.57 L1336.50,735.63 Q1340.00,735.60 1343.50,735.55 L1434.20,734.25 Q1437.70,734.20 1441.20,734.13 L1517.80,732.60 L1517.8,737.5 L11.0,737.5 Z" fill="#f6fff7"/><g stroke="#000" stroke-opacity="0.07" stroke-width="1.8"><line x1="12.40" y1="31" x2="12.40" y2="737.5"/><line x1="124.08" y1="31" x2="124.08" y2="737.5"/><line x1="235.76" y1="31" x2="235.76" y2="737.5"/><line x1="347.44" y1="31" x2="347.44" y2="737.5"/><line x1="459.12" y1="31" x2="459.12" y2="737.5"/><line x1="570.80" y1="31" x2="570.80" y2="737.5"/><line x1="682.48" y1="31" x2="682.48" y2="737.5"/><line x1="794.16" y1="31" x2="794.16" y2="737.5"/><line x1="905.84" y1="31" x2="905.84" y2="737.5"/><line x1="1017.52" y1="31" x2="1017.52" y2="737.5"/><line x1="1129.20" y1="31" x2="1129.20" y2="737.5"/><line x1="1240.88" y1="31" x2="1240.88" y2="737.5"/><line x1="1352.56" y1="31" x2="1352.56" y2="737.5"/><line x1="1464.24" y1="31" x2="1464.24" y2="737.5"/></g><g fill="none" stroke-width="3.4" stroke-linejoin="round" stroke-linecap="butt"><path d="M11.00,737.40 L196.50,736.52 Q200.00,736.50 203.50,736.34 L218.50,735.66 Q222.00,735.50 225.36,734.53 L226.64,734.17 Q230.00,733.20 233.50,733.16 L296.50,732.34 Q300.00,732.30 303.50,732.19 L324.50,731.51 Q328.00,731.40 331.50,731.31 L351.27,730.78 Q352.50,730.75 353.45,729.98 L353.45,729.98 Q354.40,729.20 355.63,729.19 L377.75,728.94 Q381.25,728.90 384.72,728.44 L385.28,728.36 Q388.75,727.90 392.25,727.96 L396.50,728.04 Q400.00,728.10 403.40,727.28 L404.10,727.12 Q407.50,726.30 410.99,725.98 L424.61,724.72 Q428.10,724.40 431.60,724.33 L472.06,723.46 Q475.00,723.40 477.80,722.50 L477.80,722.50 Q480.60,721.60 483.54,721.52 L527.80,720.39 Q531.30,720.30 534.49,718.85 L535.61,718.35 Q538.80,716.90 542.30,716.78 L563.40,716.02 Q566.90,715.90 570.30,715.08 L571.00,714.92 Q574.40,714.10 577.88,713.75 L584.02,713.15 Q587.50,712.80 590.99,712.55 L604.61,711.55 Q608.10,711.30 611.49,710.44 L612.21,710.26 Q615.60,709.40 619.10,709.40 L639.72,709.40 Q641.90,709.40 643.75,708.25 L643.75,708.25 Q645.60,707.10 647.78,707.10 L666.50,707.10 Q670.00,707.10 673.43,706.41 L674.07,706.29 Q677.50,705.60 680.99,705.39 L689.01,704.91 Q692.50,704.70 695.95,704.10 L696.55,704.00 Q700.00,703.40 703.49,703.17 L711.51,702.63 Q715.00,702.40 718.50,702.43 L724.10,702.47 Q727.60,702.50 730.96,701.52 L735.94,700.08 Q739.30,699.10 742.80,699.07 L798.59,698.63 Q801.90,698.60 804.85,697.10 L804.85,697.10 Q807.80,695.60 811.07,695.07 L816.05,694.26 Q819.50,693.70 822.88,692.80 L825.92,692.00 Q829.30,691.10 832.80,690.96 L835.60,690.84 Q839.10,690.70 842.29,689.27 L843.71,688.63 Q846.90,687.20 850.40,687.09 L873.20,686.41 Q876.70,686.30 879.63,684.39 L880.37,683.91 Q883.30,682.00 886.80,682.00 L894.69,682.00 Q897.60,682.00 900.20,680.70 L901.05,680.27 Q902.80,679.40 904.75,679.25 L904.75,679.25 Q906.70,679.10 908.14,677.77 L908.65,677.30 Q910.60,675.50 912.94,674.25 L915.41,672.94 Q918.50,671.30 921.97,670.85 L922.83,670.75 Q926.30,670.30 929.53,668.95 L935.59,666.41 Q938.00,665.40 940.60,665.20 L940.60,665.20 Q943.20,665.00 945.66,664.13 L947.80,663.37 Q951.10,662.20 954.60,662.08 L957.86,661.98 Q960.20,661.90 962.15,660.60 L962.15,660.60 Q964.10,659.30 966.44,659.30 L1011.29,659.30 Q1013.60,659.30 1015.60,658.15 L1015.60,658.15 Q1017.60,657.00 1018.80,655.03 L1019.68,653.59 Q1021.50,650.60 1025.00,650.52 L1035.58,650.26 Q1038.20,650.20 1040.05,648.35 L1040.05,648.35 Q1041.90,646.50 1044.52,646.50 L1051.66,646.50 Q1054.70,646.50 1056.50,644.05 L1056.50,644.05 Q1058.30,641.60 1061.34,641.60 L1063.00,641.60 Q1066.50,641.60 1069.47,639.75 L1071.73,638.35 Q1074.70,636.50 1078.20,636.50 L1096.80,636.50 Q1100.30,636.50 1102.02,633.45 L1102.18,633.15 Q1103.90,630.10 1107.40,630.10 L1126.67,630.10 Q1129.50,630.10 1132.25,629.45 L1132.25,629.45 Q1135.00,628.80 1137.83,628.80 L1167.70,628.80 Q1169.60,628.80 1171.45,628.35 L1171.45,628.35 Q1173.30,627.90 1175.20,627.89 L1199.89,627.81 Q1203.30,627.80 1206.20,626.00 L1206.20,626.00 Q1209.10,624.20 1212.34,623.12 L1212.68,623.01 Q1216.00,621.90 1219.50,621.87 L1280.00,621.33 Q1283.50,621.30 1286.93,620.60 L1289.38,620.09 Q1291.30,619.70 1293.25,619.50 L1293.25,619.50 Q1295.20,619.30 1297.04,618.62 L1299.72,617.62 Q1303.00,616.40 1306.16,614.89 L1306.74,614.61 Q1309.90,613.10 1313.40,613.10 L1354.10,613.10 Q1357.60,613.10 1361.07,612.62 L1375.63,610.58 Q1379.10,610.10 1382.60,610.04 L1411.31,609.55 Q1414.30,609.50 1417.20,608.75 L1417.20,608.75 Q1420.10,608.00 1423.10,607.97 L1453.80,607.64 Q1457.30,607.60 1460.80,607.58 L1517.80,607.20" stroke="#7ccb86"/><path d="M11.00,737.40 L996.50,737.20 Q1000.00,737.20 1003.50,737.19 L1226.50,736.61 Q1230.00,736.60 1233.50,736.57 L1336.50,735.63 Q1340.00,735.60 1343.50,735.55 L1434.20,734.25 Q1437.70,734.20 1441.20,734.13 L1517.80,732.60" stroke="#98e0a0"/><path d="M11.00,737.40 L146.50,736.23 Q150.00,736.20 153.50,736.17 L296.50,735.13 Q300.00,735.10 303.50,735.06 L350.90,734.54 Q354.40,734.50 357.90,734.41 L362.10,734.29 Q365.60,734.20 369.10,734.23 L396.50,734.47 Q400.00,734.50 403.50,734.51 L468.25,734.70 Q469.40,734.70 470.35,734.05 L470.35,734.05 Q471.30,733.40 472.45,733.40 L542.80,733.40 Q546.30,733.40 549.73,732.71 L550.37,732.59 Q553.80,731.90 557.30,731.90 L575.18,731.90 Q578.10,731.90 580.95,731.25 L580.95,731.25 Q583.80,730.60 586.72,730.56 L630.46,730.03 Q632.50,730.00 634.40,729.25 L634.40,729.25 Q636.30,728.50 638.34,728.50 L674.00,728.50 Q677.50,728.50 680.98,728.17 L681.52,728.13 Q685.00,727.80 688.50,727.89 L696.50,728.11 Q700.00,728.20 703.50,728.21 L772.96,728.39 Q775.00,728.40 776.90,727.65 L776.90,727.65 Q778.80,726.90 780.84,726.90 L817.10,726.90 Q820.00,726.90 822.80,726.15 L822.80,726.15 Q825.60,725.40 828.50,725.40 L847.17,725.40 Q850.00,725.40 852.80,725.00 L852.80,725.00 Q855.60,724.60 858.43,724.60 L890.21,724.60 Q893.10,724.60 895.95,724.15 L895.95,724.15 Q898.80,723.70 901.69,723.70 L914.66,723.70 Q917.50,723.70 920.30,723.25 L920.30,723.25 Q923.10,722.80 925.94,722.80 L967.10,722.80 Q970.00,722.80 972.80,722.05 L972.80,722.05 Q975.60,721.30 978.50,721.23 L989.00,720.98 Q992.50,720.90 996.00,720.90 L1007.38,720.90 Q1009.40,720.90 1011.25,720.10 L1011.25,720.10 Q1013.10,719.30 1015.12,719.32 L1048.52,719.58 Q1050.60,719.60 1052.50,718.75 L1052.50,718.75 Q1054.40,717.90 1056.48,717.90 L1070.15,717.90 Q1073.10,717.90 1075.95,717.15 L1075.95,717.15 Q1078.80,716.40 1081.75,716.40 L1144.43,716.30 Q1146.30,716.30 1148.15,716.00 L1148.15,716.00 Q1150.00,715.70 1151.87,715.69 L1235.00,715.22 Q1238.50,715.20 1242.00,715.19 L1289.80,715.01 Q1293.30,715.00 1296.78,714.67 L1303.52,714.03 Q1307.00,713.70 1310.50,713.64 L1329.44,713.35 Q1332.40,713.30 1335.35,713.00 L1335.35,713.00 Q1338.30,712.70 1341.27,712.72 L1399.94,713.08 Q1402.50,713.10 1404.95,712.35 L1404.95,712.35 Q1407.40,711.60 1409.96,711.60 L1452.24,711.60 Q1455.30,711.60 1458.25,710.80 L1458.25,710.80 Q1461.20,710.00 1464.26,709.94 L1517.80,708.80" stroke="#3d8c48"/><path d="M11.00,737.40 L39.62,736.29 Q42.00,736.20 44.00,734.90 L44.00,734.90 Q46.00,733.60 48.39,733.60 L152.45,733.80 Q155.00,733.80 157.50,733.30 L157.50,733.30 Q160.00,732.80 162.55,732.79 L218.40,732.61 Q221.90,732.60 225.28,731.68 L226.62,731.32 Q230.00,730.40 233.50,730.27 L241.77,729.97 Q243.75,729.90 245.62,729.25 L245.62,729.25 Q247.50,728.60 249.47,728.40 L255.92,727.75 Q259.40,727.40 262.90,727.35 L276.61,727.14 Q279.40,727.10 281.90,725.85 L281.90,725.85 Q284.40,724.60 287.19,724.67 L296.50,724.91 Q300.00,725.00 303.50,725.01 L341.19,725.09 Q343.75,725.10 345.62,723.35 L345.62,723.35 Q347.50,721.60 349.96,720.89 L351.04,720.57 Q354.40,719.60 357.90,719.72 L369.20,720.11 Q371.90,720.20 374.07,718.60 L374.07,718.60 Q376.25,717.00 378.88,716.39 L379.69,716.20 Q383.10,715.40 386.60,715.44 L396.50,715.56 Q400.00,715.60 403.50,715.60 L409.85,715.60 Q412.50,715.60 415.10,715.10 L415.10,715.10 Q417.70,714.60 420.35,714.60 L428.15,714.60 Q431.30,714.60 434.40,714.05 L434.40,714.05 Q437.50,713.50 440.65,713.50 L451.80,713.50 Q455.30,713.50 458.40,711.88 L459.50,711.32 Q462.60,709.70 466.10,709.70 L489.07,709.70 Q491.80,709.70 493.90,707.95 L493.90,707.95 Q496.00,706.20 498.73,706.20 L499.80,706.20 Q503.30,706.20 506.06,704.05 L507.84,702.65 Q510.60,700.50 514.10,700.47 L531.00,700.33 Q534.50,700.30 537.88,699.39 L543.66,697.83 Q546.00,697.20 548.10,696.00 L548.11,695.99 Q550.20,694.80 552.60,694.70 L552.84,694.69 Q555.00,694.60 556.50,693.05 L556.50,693.05 Q558.00,691.50 560.15,691.71 L560.89,691.79 Q563.00,692.00 564.50,690.50 L564.50,690.50 Q566.00,689.00 568.12,689.06 L580.97,689.44 Q583.00,689.50 585.00,689.15 L585.00,689.15 Q587.00,688.80 589.03,688.80 L612.50,688.80 Q616.00,688.80 617.88,685.85 L618.86,684.30 Q620.00,682.50 622.00,681.75 L622.00,681.75 Q624.00,681.00 626.13,680.85 L627.51,680.75 Q631.00,680.50 634.07,678.81 L637.93,676.69 Q641.00,675.00 643.80,672.90 L644.20,672.60 Q647.00,670.50 650.50,670.50 L650.50,670.50 Q654.00,670.50 657.28,669.29 L660.90,667.95 Q664.00,666.80 667.00,665.40 L667.00,665.40 Q670.00,664.00 673.30,663.74 L676.51,663.48 Q680.00,663.20 683.26,661.92 L688.74,659.78 Q692.00,658.50 695.38,657.59 L698.62,656.71 Q702.00,655.80 705.50,655.80 L711.50,655.80 Q715.00,655.80 718.50,655.72 L724.10,655.58 Q727.60,655.50 731.07,655.05 L731.93,654.95 Q735.40,654.50 738.32,652.57 L738.38,652.53 Q741.30,650.60 744.49,649.15 L748.91,647.15 Q752.10,645.70 755.60,645.70 L756.40,645.70 Q759.90,645.70 762.68,643.58 L769.82,638.12 Q772.60,636.00 776.10,636.00 L782.80,636.00 Q786.30,636.00 789.69,635.13 L790.71,634.87 Q794.10,634.00 796.51,631.46 L803.39,624.24 Q805.80,621.70 809.30,621.70 L823.90,621.70 Q827.40,621.70 829.40,618.83 L833.20,613.37 Q835.20,610.50 837.89,608.27 L844.21,603.03 Q846.90,600.80 850.38,600.44 L853.22,600.16 Q856.70,599.80 858.97,597.14 L860.33,595.56 Q862.60,592.90 866.10,592.72 L889.27,591.54 Q892.10,591.40 894.20,589.50 L894.20,589.50 Q896.30,587.60 897.70,585.14 L902.87,576.04 Q904.60,573.00 908.10,572.95 L927.20,572.65 Q930.70,572.60 931.74,569.26 L932.76,565.94 Q933.80,562.60 937.30,562.60 L940.40,562.60 Q943.20,562.60 944.80,560.30 L944.80,560.30 Q946.40,558.00 949.20,558.00 L963.70,558.00 Q967.20,558.00 968.26,554.66 L970.34,548.14 Q971.40,544.80 974.90,544.79 L1029.81,544.61 Q1031.90,544.60 1033.25,543.00 L1033.25,543.00 Q1034.60,541.40 1035.17,539.38 L1037.25,531.97 Q1038.20,528.60 1040.31,525.80 L1041.59,524.10 Q1043.70,521.30 1046.33,518.99 L1048.37,517.21 Q1051.00,514.90 1054.50,514.76 L1057.60,514.64 Q1061.10,514.50 1064.10,512.69 L1065.04,512.12 Q1067.40,510.70 1070.15,510.50 L1070.15,510.50 Q1072.90,510.30 1075.16,508.71 L1079.14,505.91 Q1082.00,503.90 1084.11,501.10 L1085.39,499.40 Q1087.50,496.60 1090.83,495.51 L1095.17,494.09 Q1098.50,493.00 1100.34,490.02 L1101.32,488.42 Q1103.00,485.70 1106.20,485.70 L1107.40,485.70 Q1109.40,485.70 1111.25,484.95 L1111.25,484.95 Q1113.10,484.20 1115.09,484.07 L1115.35,484.05 Q1117.60,483.90 1118.20,481.73 L1119.46,477.17 Q1120.40,473.80 1123.90,473.76 L1160.70,473.34 Q1164.20,473.30 1165.89,470.24 L1169.81,463.16 Q1171.50,460.10 1173.39,457.15 L1177.11,451.35 Q1179.00,448.40 1182.50,448.28 L1195.50,447.82 Q1199.00,447.70 1201.09,444.89 L1202.63,442.83 Q1203.70,441.40 1205.45,441.05 L1205.45,441.05 Q1207.20,440.70 1208.31,439.30 L1209.72,437.54 Q1211.90,434.80 1215.40,434.73 L1228.30,434.47 Q1231.80,434.40 1235.29,434.14 L1239.26,433.84 Q1241.20,433.70 1242.95,432.85 L1242.95,432.85 Q1244.70,432.00 1246.65,432.00 L1267.04,432.00 Q1270.50,432.00 1271.70,428.75 L1271.70,428.75 Q1272.90,425.50 1274.00,422.22 L1276.39,415.12 Q1277.50,411.80 1281.00,411.62 L1295.20,410.88 Q1298.70,410.70 1300.38,407.63 L1300.52,407.37 Q1302.20,404.30 1303.36,401.00 L1305.24,395.60 Q1306.40,392.30 1307.06,388.86 L1309.44,376.54 Q1310.10,373.10 1313.60,372.99 L1322.10,372.71 Q1325.60,372.60 1326.40,369.19 L1329.40,356.41 Q1330.20,353.00 1333.63,352.32 L1340.37,350.98 Q1343.80,350.30 1344.75,346.93 L1346.55,340.57 Q1347.50,337.20 1351.00,337.20 L1357.70,337.20 Q1361.20,337.20 1362.36,333.90 L1364.54,327.70 Q1365.70,324.40 1369.20,324.40 L1400.20,324.40 Q1402.20,324.40 1404.05,323.65 L1404.05,323.65 Q1405.90,322.90 1407.90,322.90 L1447.10,322.90 Q1450.60,322.90 1452.20,319.79 L1456.30,311.81 Q1457.90,308.70 1461.39,308.51 L1462.29,308.46 Q1465.20,308.30 1467.05,306.05 L1467.05,306.05 Q1468.90,303.80 1471.81,303.64 L1472.99,303.58 Q1476.20,303.40 1478.45,301.10 L1478.45,301.10 Q1480.70,298.80 1483.91,298.66 L1489.10,298.45 Q1492.60,298.30 1496.07,297.87 L1496.43,297.83 Q1499.90,297.40 1503.40,297.32 L1517.80,297.00" stroke="#2b6e2e"/><path d="M11.00,737.40 L36.50,737.05 Q40.00,737.00 43.50,736.91 L53.31,736.66 Q55.50,736.60 56.75,734.80 L56.75,734.80 Q58.00,733.00 59.31,731.25 L59.50,731.00 Q61.00,729.00 63.48,728.68 L64.29,728.58 Q66.50,728.30 68.00,726.65 L68.00,726.65 Q69.50,725.00 71.73,725.05 L76.84,725.16 Q78.90,725.20 80.50,723.90 L80.50,723.90 Q82.10,722.60 84.16,722.58 L96.08,722.44 Q99.40,722.40 102.50,721.20 L102.50,721.20 Q105.60,720.00 108.56,718.49 L108.78,718.39 Q111.90,716.80 115.40,716.80 L146.00,716.80 Q149.50,716.80 153.00,716.80 L236.82,716.80 Q239.20,716.80 241.25,715.60 L241.25,715.60 Q243.30,714.40 245.68,714.37 L248.75,714.34 Q252.00,714.30 254.35,712.05 L255.28,711.16 Q256.70,709.80 258.45,708.90 L258.45,708.90 Q260.20,708.00 261.75,706.79 L263.34,705.55 Q266.10,703.40 269.60,703.40 L307.59,703.40 Q310.10,703.40 311.55,701.35 L311.55,701.35 Q313.00,699.30 314.39,697.21 L316.23,694.42 Q317.70,692.20 320.35,691.90 L320.35,691.90 Q323.00,691.60 324.84,689.67 L325.05,689.45 Q327.10,687.30 330.07,687.30 L332.89,687.30 Q335.30,687.30 337.05,685.65 L337.05,685.65 Q338.80,684.00 339.98,681.90 L341.21,679.71 Q342.40,677.60 344.75,677.00 L344.75,677.00 Q347.10,676.40 349.18,675.15 L350.00,674.65 Q352.90,672.90 356.29,672.90 L360.60,672.90 Q364.10,672.90 365.97,669.94 L366.33,669.36 Q368.20,666.40 371.70,666.40 L394.00,666.40 Q397.50,666.40 401.00,666.40 L402.01,666.40 Q405.00,666.40 407.95,666.90 L407.95,666.90 Q410.90,667.40 413.89,667.28 L426.60,666.75 Q430.10,666.60 431.21,663.28 L433.59,656.22 Q434.70,652.90 436.42,649.85 L436.58,649.55 Q438.30,646.50 440.88,644.13 L443.02,642.17 Q445.60,639.80 448.92,638.71 L449.78,638.43 Q452.90,637.40 455.65,635.60 L455.65,635.60 Q458.40,633.80 461.69,633.80 L501.40,633.80 Q504.90,633.80 506.90,630.93 L509.65,626.98 Q511.30,624.60 514.05,623.70 L514.05,623.70 Q516.80,622.80 519.68,622.52 L522.42,622.24 Q525.90,621.90 528.86,620.03 L530.24,619.17 Q533.20,617.30 536.70,617.24 L552.43,616.95 Q555.00,616.90 557.50,616.30 L557.50,616.30 Q560.00,615.70 561.50,613.61 L564.38,609.61 Q565.90,607.50 568.50,607.35 L568.50,607.35 Q571.10,607.20 572.57,605.05 L572.60,605.00 Q574.10,602.80 576.76,602.80 L578.03,602.80 Q580.00,602.80 581.75,601.90 L581.75,601.90 Q583.50,601.00 585.46,600.86 L588.21,600.66 Q591.70,600.40 593.38,597.33 L593.52,597.07 Q595.20,594.00 598.70,593.91 L624.50,593.29 Q628.00,593.20 630.23,590.50 L630.47,590.20 Q632.70,587.50 635.83,585.93 L637.77,584.97 Q640.90,583.40 644.40,583.36 L655.50,583.22 Q657.40,583.20 659.15,582.45 L659.15,582.45 Q660.90,581.70 662.80,581.70 L675.00,581.70 Q678.50,581.70 681.63,580.13 L682.37,579.77 Q685.50,578.20 687.55,575.36 L688.48,574.07 Q690.20,571.70 692.55,569.95 L692.55,569.95 Q694.90,568.20 697.31,566.53 L697.93,566.10 Q700.80,564.10 702.92,561.32 L704.48,559.28 Q706.60,556.50 710.10,556.34 L716.78,556.04 Q720.00,555.90 722.80,554.30 L722.80,554.30 Q725.60,552.70 728.16,550.74 L728.35,550.60 Q731.10,548.50 734.56,548.61 L738.57,548.74 Q740.50,548.80 742.05,547.65 L742.05,547.65 Q743.60,546.50 745.49,546.12 L746.35,545.95 Q749.10,545.40 751.08,543.42 L751.45,543.05 Q753.80,540.70 757.12,540.59 L767.51,540.26 Q769.40,540.20 771.00,539.20 L771.00,539.20 Q772.60,538.20 774.49,538.20 L776.68,538.20 Q778.80,538.20 780.00,536.45 L780.00,536.45 Q781.20,534.70 783.32,534.63 L786.56,534.51 Q789.80,534.40 792.50,532.60 L793.54,531.90 Q795.20,530.80 797.15,530.40 L797.15,530.40 Q799.10,530.00 799.98,528.22 L801.55,525.04 Q803.10,521.90 806.06,520.04 L807.14,519.36 Q810.10,517.50 813.06,515.64 L816.27,513.62 Q818.70,512.10 821.45,511.30 L821.45,511.30 Q824.20,510.50 826.29,508.54 L832.54,502.69 Q835.10,500.30 838.60,500.30 L847.57,500.30 Q850.80,500.30 853.90,499.40 L854.29,499.29 Q857.00,498.50 859.75,497.85 L859.75,497.85 Q862.50,497.20 865.02,495.92 L865.25,495.80 Q868.00,494.40 871.06,493.97 L871.20,493.95 Q874.40,493.50 876.18,490.80 L879.44,485.86 Q880.60,484.10 882.70,483.90 L882.70,483.90 Q884.80,483.70 885.55,481.73 L887.76,475.87 Q889.00,472.60 892.50,472.60 L893.80,472.60 Q897.30,472.60 899.33,469.75 L900.47,468.15 Q902.50,465.30 904.81,462.67 L907.49,459.63 Q909.80,457.00 912.44,454.70 L915.56,452.00 Q918.20,449.70 921.70,449.53 L923.00,449.47 Q926.50,449.30 928.70,446.58 L931.60,443.02 Q933.80,440.30 935.37,437.17 L939.53,428.83 Q941.10,425.70 944.46,424.73 L945.04,424.57 Q948.40,423.60 950.24,420.62 L955.96,411.38 Q957.80,408.40 961.29,408.18 L966.81,407.82 Q970.30,407.60 971.08,404.19 L973.78,392.34 Q974.50,389.20 977.10,387.30 L977.10,387.30 Q979.70,385.40 980.79,382.37 L986.00,367.98 Q987.00,365.20 989.80,364.25 L989.80,364.25 Q992.60,363.30 993.42,360.46 L995.53,353.16 Q996.50,349.80 1000.00,349.80 L1015.20,349.80 Q1018.70,349.80 1019.98,346.54 L1021.32,343.16 Q1022.60,339.90 1023.24,336.46 L1025.86,322.44 Q1026.50,319.00 1028.53,316.15 L1029.70,314.51 Q1031.70,311.70 1034.95,310.55 L1034.95,310.55 Q1038.20,309.40 1041.65,309.40 L1051.60,309.40 Q1055.10,309.40 1056.60,306.24 L1058.90,301.36 Q1060.40,298.20 1061.97,295.07 L1064.43,290.14 Q1065.60,287.80 1068.20,287.50 L1068.20,287.50 Q1070.80,287.20 1071.81,284.79 L1073.35,281.13 Q1074.70,277.90 1078.20,277.79 L1090.70,277.41 Q1094.20,277.30 1095.77,274.17 L1096.53,272.63 Q1098.10,269.50 1098.92,266.10 L1104.04,244.92 Q1104.70,242.20 1106.65,240.20 L1106.65,240.20 Q1108.60,238.20 1111.39,238.20 L1124.60,238.20 Q1128.10,238.20 1129.84,235.16 L1131.93,231.49 Q1133.30,229.10 1135.90,228.20 L1135.90,228.20 Q1138.50,227.30 1141.24,227.09 L1141.75,227.05 Q1145.00,226.80 1146.59,223.96 L1147.89,221.65 Q1149.60,218.60 1153.10,218.53 L1166.57,218.24 Q1168.70,218.20 1170.10,216.60 L1170.10,216.60 Q1171.50,215.00 1171.83,212.90 L1173.81,200.12 Q1174.20,197.60 1176.00,195.80 L1176.00,195.80 Q1177.80,194.00 1179.40,192.02 L1179.65,191.70 Q1181.50,189.40 1182.34,186.57 L1183.23,183.58 Q1184.20,180.30 1185.40,177.10 L1185.74,176.19 Q1186.60,173.90 1189.05,173.90 L1189.05,173.90 Q1191.50,173.90 1192.38,171.61 L1193.58,168.48 Q1194.30,166.60 1196.10,165.70 L1196.10,165.70 Q1197.90,164.80 1199.91,164.80 L1204.50,164.80 Q1208.00,164.80 1209.45,161.62 L1210.15,160.08 Q1211.60,156.90 1215.10,156.90 L1224.50,156.90 Q1228.00,156.90 1229.47,153.72 L1230.23,152.08 Q1231.70,148.90 1235.20,148.90 L1241.38,148.90 Q1244.50,148.90 1246.30,146.35 L1246.51,146.05 Q1248.10,143.80 1250.85,143.80 L1250.85,143.80 Q1253.60,143.80 1254.17,141.11 L1255.61,134.25 Q1256.30,131.00 1257.20,127.80 L1257.25,127.64 Q1258.10,124.60 1260.85,123.05 L1260.85,123.05 Q1263.60,121.50 1266.76,121.46 L1307.60,120.94 Q1311.10,120.90 1311.69,117.45 L1313.61,106.35 Q1314.20,102.90 1315.33,99.59 L1316.27,96.81 Q1317.40,93.50 1319.29,90.55 L1321.01,87.85 Q1322.90,84.90 1326.40,84.90 L1373.43,84.90 Q1376.80,84.90 1378.75,82.15 L1378.75,82.15 Q1380.70,79.40 1381.59,76.15 L1384.48,65.58 Q1385.40,62.20 1387.89,59.74 L1390.01,57.66 Q1392.50,55.20 1396.00,55.20 L1421.00,55.20 Q1424.50,55.20 1426.59,52.39 L1427.18,51.60 Q1429.20,48.90 1431.95,46.95 L1431.95,46.95 Q1434.70,45.00 1438.07,45.11 L1440.86,45.20 Q1444.10,45.30 1445.65,42.45 L1445.65,42.45 Q1447.20,39.60 1450.44,39.39 L1451.51,39.32 Q1455.00,39.10 1457.32,36.48 L1457.38,36.42 Q1459.70,33.80 1463.20,33.80 L1471.21,33.80 Q1473.00,33.80 1474.60,33.00 L1474.60,33.00 Q1476.20,32.20 1477.99,32.20 L1489.00,32.20 Q1490.30,32.20 1491.45,31.60 L1491.45,31.60 Q1492.60,31.00 1493.90,31.00 L1517.80,31.00" stroke="#5aab66"/><path d="M11.00,737.40 L86.62,736.52 Q88.00,736.50 89.00,735.55 L89.00,735.55 Q90.00,734.60 91.29,734.11 L92.10,733.80 Q94.20,733.00 95.68,731.31 L96.25,730.65 Q98.30,728.30 101.41,728.13 L104.36,727.98 Q107.70,727.80 109.80,725.20 L109.80,725.20 Q111.90,722.60 115.24,722.60 L120.64,722.60 Q123.40,722.60 125.45,720.75 L125.45,720.75 Q127.50,718.90 130.26,718.94 L146.67,719.16 Q149.50,719.20 151.55,717.25 L151.55,717.25 Q153.60,715.30 156.43,715.30 L158.50,715.30 Q162.00,715.30 164.56,712.91 L166.74,710.89 Q169.30,708.50 172.56,707.22 L175.44,706.08 Q178.70,704.80 182.10,703.95 L185.70,703.05 Q189.10,702.20 191.95,700.17 L192.45,699.83 Q195.30,697.80 198.80,697.76 L215.80,697.54 Q219.30,697.50 222.26,695.63 L223.64,694.77 Q226.60,692.90 230.08,692.49 L232.52,692.21 Q236.00,691.80 239.50,691.75 L270.96,691.33 Q273.20,691.30 274.95,689.90 L274.95,689.90 Q276.70,688.50 278.94,688.45 L293.11,688.13 Q294.30,688.10 295.45,687.80 L295.45,687.80 Q296.60,687.50 297.79,687.52 L315.51,687.76 Q318.30,687.80 320.35,685.90 L320.35,685.90 Q322.40,684.00 324.91,682.76 L326.36,682.05 Q329.50,680.50 333.00,680.50 L353.33,680.50 Q355.30,680.50 357.05,679.60 L357.05,679.60 Q358.80,678.70 360.77,678.70 L391.53,678.70 Q394.00,678.70 395.75,676.95 L395.75,676.95 Q397.50,675.20 398.33,672.87 L398.82,671.50 Q400.00,668.20 403.48,667.87 L408.02,667.43 Q411.50,667.10 414.18,664.85 L415.02,664.15 Q417.70,661.90 421.20,661.84 L443.55,661.44 Q445.90,661.40 448.00,660.35 L448.00,660.35 Q450.10,659.30 452.45,659.30 L463.80,659.30 Q467.30,659.30 468.77,656.12 L469.43,654.68 Q470.90,651.50 474.40,651.50 L479.99,651.50 Q483.40,651.50 486.55,650.20 L486.55,650.20 Q489.70,648.90 493.08,648.49 L497.73,647.92 Q501.20,647.50 503.96,645.34 L506.74,643.16 Q509.50,641.00 513.00,640.89 L524.80,640.51 Q525.20,640.50 525.55,640.30 L525.55,640.30 Q525.90,640.10 526.25,639.90 L533.86,635.54 Q536.90,633.80 540.40,633.80 L543.00,633.80 Q546.00,633.80 548.75,632.60 L549.89,632.10 Q551.50,631.40 553.25,631.30 L553.25,631.30 Q555.00,631.20 556.75,631.10 L557.50,631.05 Q560.00,630.90 562.50,630.78 L567.49,630.55 Q570.60,630.40 572.90,628.30 L572.90,628.30 Q575.20,626.20 578.23,625.47 L578.90,625.31 Q582.30,624.50 585.80,624.42 L596.40,624.18 Q599.90,624.10 602.99,622.46 L603.81,622.04 Q606.90,620.40 610.40,620.47 L613.88,620.55 Q616.30,620.60 618.65,620.00 L618.65,620.00 Q621.00,619.40 623.43,619.42 L668.89,619.78 Q671.40,619.80 673.20,618.05 L673.20,618.05 Q675.00,616.30 675.96,613.98 L681.00,601.74 Q682.00,599.30 684.35,598.10 L684.35,598.10 Q686.70,596.90 689.29,596.37 L689.65,596.30 Q692.60,595.70 694.40,593.28 L695.71,591.51 Q697.80,588.70 699.71,585.77 L704.69,578.13 Q706.60,575.20 710.09,574.98 L713.70,574.75 Q716.00,574.60 718.00,573.45 L718.00,573.45 Q720.00,572.30 721.52,570.56 L722.05,569.95 Q724.10,567.60 727.10,566.76 L730.84,565.72 Q732.70,565.20 734.25,564.05 L734.25,564.05 Q735.80,562.90 737.73,562.85 L753.23,562.44 Q754.60,562.40 755.75,561.65 L755.75,561.65 Q756.90,560.90 758.27,560.90 L778.40,560.90 Q781.90,560.90 783.17,557.64 L785.33,552.06 Q786.60,548.80 788.92,546.18 L789.78,545.22 Q792.10,542.60 794.17,539.78 L795.53,537.92 Q797.60,535.10 801.10,535.00 L810.87,534.72 Q811.70,534.70 812.45,534.35 L812.45,534.35 Q813.20,534.00 814.03,534.00 L824.60,534.00 Q828.10,534.00 829.44,530.77 L830.66,527.83 Q832.00,524.60 834.42,522.07 L840.48,515.73 Q842.90,513.20 846.40,513.10 L853.50,512.90 Q857.00,512.80 860.14,511.25 L860.16,511.25 Q863.30,509.70 866.80,509.71 L893.80,509.79 Q897.30,509.80 899.94,507.50 L900.96,506.60 Q903.60,504.30 907.10,504.30 L918.90,504.30 Q922.40,504.30 923.46,500.96 L925.44,494.74 Q926.50,491.40 928.77,488.74 L929.81,487.53 Q931.80,485.20 933.35,482.55 L933.35,482.55 Q934.90,479.90 937.92,479.37 L942.95,478.50 Q946.40,477.90 948.31,474.97 L948.59,474.53 Q950.50,471.60 953.63,470.02 L959.87,466.88 Q963.00,465.30 964.69,462.24 L967.84,456.55 Q969.30,453.90 970.85,451.30 L970.85,451.30 Q972.40,448.70 974.54,446.56 L979.33,441.77 Q981.80,439.30 984.27,436.83 L985.63,435.47 Q988.10,433.00 991.59,432.74 L998.97,432.20 Q1001.60,432.00 1003.20,429.90 L1003.20,429.90 Q1004.80,427.80 1007.44,427.68 L1014.80,427.36 Q1018.30,427.20 1019.14,423.80 L1020.98,416.38 Q1021.40,414.70 1022.65,413.50 L1022.65,413.50 Q1023.90,412.30 1025.13,411.07 L1034.43,401.77 Q1036.90,399.30 1039.81,397.36 L1041.79,396.04 Q1044.70,394.10 1046.81,391.30 L1052.99,383.10 Q1055.10,380.30 1058.24,378.75 L1060.67,377.55 Q1063.00,376.40 1065.60,376.40 L1065.60,376.40 Q1068.20,376.40 1070.24,374.79 L1077.15,369.36 Q1079.90,367.20 1083.40,367.15 L1114.20,366.75 Q1117.70,366.70 1120.70,364.90 L1121.20,364.60 Q1124.20,362.80 1127.69,362.49 L1129.81,362.31 Q1133.30,362.00 1134.87,358.87 L1136.31,355.98 Q1137.20,354.20 1139.15,353.80 L1139.15,353.80 Q1141.10,353.40 1142.30,351.81 L1144.29,349.19 Q1146.40,346.40 1149.90,346.37 L1163.80,346.23 Q1167.30,346.20 1169.91,343.87 L1175.19,339.13 Q1177.80,336.80 1181.30,336.72 L1197.96,336.35 Q1200.10,336.30 1201.90,335.15 L1201.90,335.15 Q1203.70,334.00 1205.84,334.00 L1224.87,334.00 Q1228.30,334.00 1230.05,331.05 L1230.05,331.05 Q1231.80,328.10 1235.23,328.10 L1239.21,328.10 Q1241.20,328.10 1242.95,327.15 L1242.95,327.15 Q1244.70,326.20 1246.69,326.20 L1258.62,326.20 Q1261.10,326.20 1263.45,325.40 L1263.45,325.40 Q1265.80,324.60 1268.28,324.61 L1307.50,324.78 Q1311.00,324.80 1312.28,321.54 L1313.32,318.86 Q1314.60,315.60 1318.10,315.52 L1325.21,315.37 Q1328.30,315.30 1329.70,312.55 L1329.70,312.55 Q1331.10,309.80 1334.19,309.75 L1366.16,309.25 Q1369.40,309.20 1371.20,306.50 L1371.20,306.50 Q1373.00,303.80 1376.24,303.61 L1379.61,303.41 Q1383.10,303.20 1385.98,301.22 L1387.56,300.13 Q1389.50,298.80 1391.75,298.10 L1391.75,298.10 Q1394.00,297.40 1395.22,295.38 L1398.53,289.90 Q1399.50,288.30 1401.35,288.00 L1401.35,288.00 Q1403.20,287.70 1405.07,287.69 L1430.80,287.50" stroke="#1a4c12"/></g><line x1="0" y1="737.5" x2="1536.5" y2="737.5" stroke="#1a1a1a" stroke-width="1.6"/><path d="M1517.8,22.6 L1525.0,35.2 L1510.5,35.2 Z" fill="#5aab66"/><path d="M1430.8,279.9 L1438.0,292.5 L1423.5,292.5 Z" fill="#1a4c12"/><path d="M1517.8,288.8 L1525.0,301.4 L1510.5,301.4 Z" fill="#2b6e2e"/><path d="M1517.8,598.6 L1525.0,611.2 L1510.5,611.2 Z" fill="#7ccb86"/><path d="M1517.8,700.6 L1525.0,713.2 L1510.5,713.2 Z" fill="#3d8c48"/><path d="M1517.8,724.1 L1525.0,736.7 L1510.5,736.7 Z" fill="#98e0a0"/><line x1="1438.5" y1="287.3" x2="1530" y2="275.3" stroke="#1a4c12" stroke-width="1.8" stroke-dasharray="4,3.2"/><line x1="1522.5" y1="302.5" x2="1531" y2="310.5" stroke="#2b6e2e" stroke-width="1.8" stroke-dasharray="3.5,3.2"/><line x1="1524.7" y1="705.8" x2="1528" y2="704" stroke="#3d8c48" stroke-width="1.6"/><text x="1535.3" y="41.6" fill="#3b8b45" stroke="#3b8b45" stroke-width="0.25" class="lab">2022</text><text x="1535.3" y="286.0" fill="#164a12" stroke="#164a12" stroke-width="0.25" class="lab">2023</text><text x="1535.3" y="320.9" fill="#2a6b2d" stroke="#2a6b2d" stroke-width="0.25" class="lab">2021</text><text x="1535.3" y="617.0" fill="#338a3e" stroke="#338a3e" stroke-width="0.25" class="lab">2020</text><text x="1535.3" y="713.7" fill="#338a3e" stroke="#338a3e" stroke-width="0.25" class="lab">2019</text><text x="1535.3" y="748.3" fill="#338a3e" stroke="#338a3e" stroke-width="0.25" class="lab">2018</text><text x="12.40" y="769.1" text-anchor="middle" class="xl">Jan 01</text><text x="124.08" y="769.1" text-anchor="middle" class="xl">Jan 28</text><text x="235.76" y="769.1" text-anchor="middle" class="xl">Feb 24</text><text x="347.44" y="769.1" text-anchor="middle" class="xl">Mar 23</text><text x="459.12" y="769.1" text-anchor="middle" class="xl">Apr 19</text><text x="570.80" y="769.1" text-anchor="middle" class="xl">May 16</text><text x="682.48" y="769.1" text-anchor="middle" class="xl">Jun 12</text><text x="794.16" y="769.1" text-anchor="middle" class="xl">Jul 09</text><text x="905.84" y="769.1" text-anchor="middle" class="xl">Aug 05</text><text x="1017.52" y="769.1" text-anchor="middle" class="xl">Sep 01</text><text x="1129.20" y="769.1" text-anchor="middle" class="xl">Sep 28</text><text x="1240.88" y="769.1" text-anchor="middle" class="xl">Oct 25</text><text x="1352.56" y="769.1" text-anchor="middle" class="xl">Nov 21</text><text x="1464.24" y="769.1" text-anchor="middle" class="xl">Dec 18</text><text x="72.5" y="-4" class="title">Cumulative length of the entire network grew <tspan dx="9">each year</tspan></text></svg>
</body></html>
